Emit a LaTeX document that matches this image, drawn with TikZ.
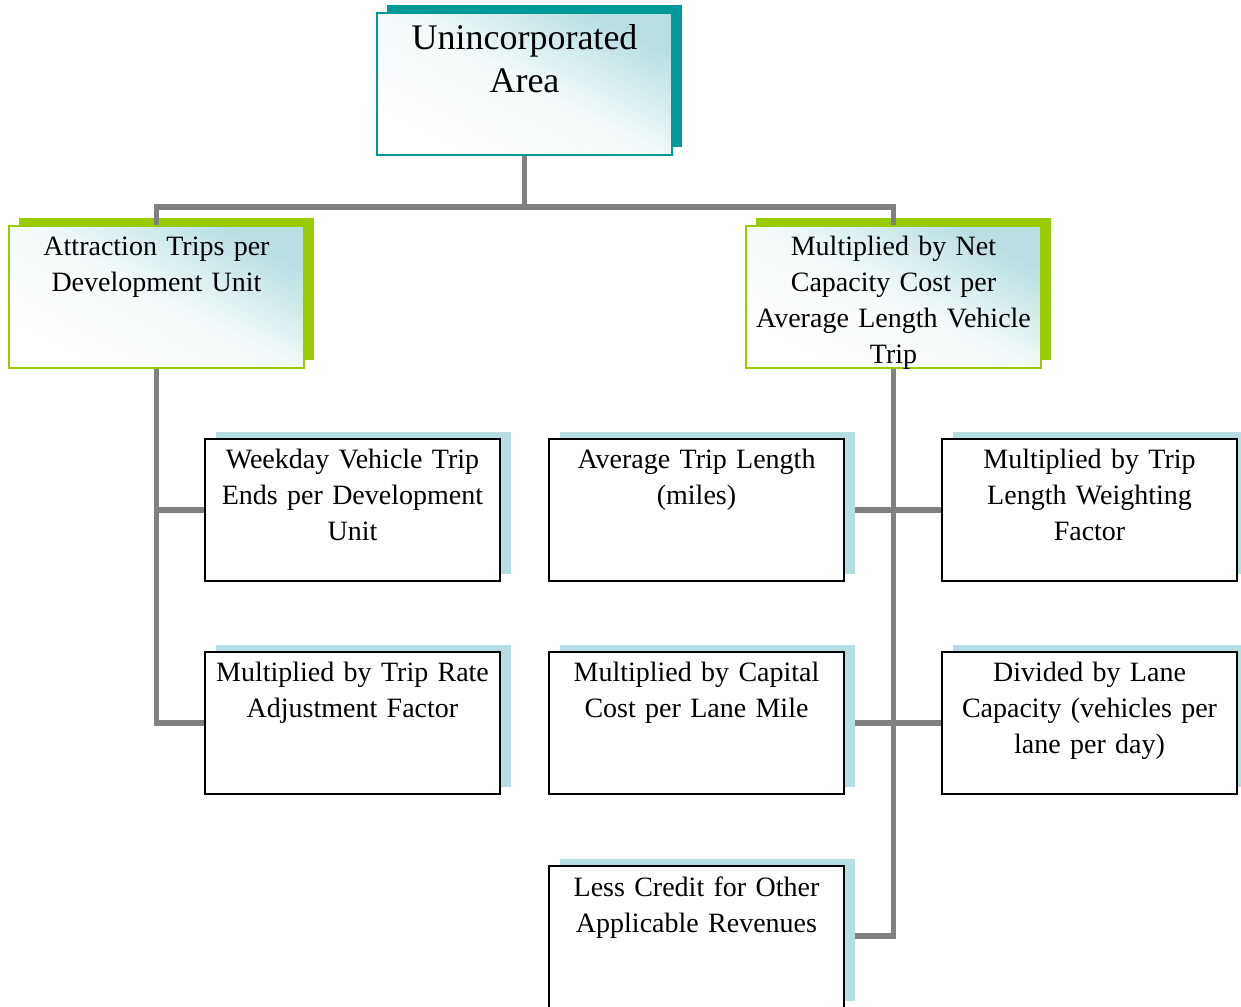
\documentclass[tikz,border=0pt]{standalone}
\usepackage{fontspec}
\setmainfont{Liberation Serif}
\usetikzlibrary{calc}
\definecolor{tealsh}{RGB}{0,153,153}
\definecolor{greensh}{RGB}{153,204,0}
\definecolor{bluesh}{RGB}{183,222,226}
\definecolor{conncol}{RGB}{128,128,128}
\definecolor{gradblue}{RGB}{183,222,226}
\tikzset{
  x=0.75pt, y=-0.75pt,
  boxbase/.style={rectangle, inner sep=0pt, minimum width=221.25pt, minimum height=106.5pt},
  whitebox/.style={boxbase, draw=black, line width=1.3pt, fill=white},
  gradbox/.style={boxbase, line width=1.2pt, top color=gradblue, bottom color=white, middle color=white!85!gradblue, shading angle=-28},
  shadowbox/.style={boxbase, draw=none},
  conn/.style={draw=conncol, line width=4pt},
  txt/.style={anchor=north, inner sep=0pt, align=center, text width=218pt, font=\fontsize{21}{27}\selectfont},
  bigtxt/.style={anchor=north, inner sep=0pt, align=center, text width=218pt, font=\fontsize{27}{32.3}\selectfont}
}
\begin{document}
\begin{tikzpicture}
\useasboundingbox (0,0) rectangle (1241,1006);
\fill[white] (0,0) rectangle (1241,1006);

% positions of main boxes
\coordinate (pTop) at (524.5,84);
\coordinate (pAttr) at (156.5,297);
\coordinate (pNet) at (893.5,297);
\coordinate (pWeek) at (352.5,510);
\coordinate (pRate) at (352.5,723);
\coordinate (pAvg) at (696.5,510);
\coordinate (pCap) at (696.5,723);
\coordinate (pLess) at (696.5,937);
\coordinate (pWeight) at (1089.5,510);
\coordinate (pLane) at (1089.5,723);

% shadows
\node[shadowbox, fill=tealsh] (topS) at ($(pTop)+(10,-8)$) {};
\node[shadowbox, fill=greensh] (attrS) at ($(pAttr)+(10,-8)$) {};
\node[shadowbox, fill=greensh] (netS) at ($(pNet)+(10,-8)$) {};
\node[shadowbox, fill=bluesh] (weekS) at ($(pWeek)+(11,-7)$) {};
\node[shadowbox, fill=bluesh] (rateS) at ($(pRate)+(11,-7)$) {};
\node[shadowbox, fill=bluesh] (avgS) at ($(pAvg)+(11,-7)$) {};
\node[shadowbox, fill=bluesh] (capS) at ($(pCap)+(11,-7)$) {};
\node[shadowbox, fill=bluesh] (lessS) at ($(pLess)+(11,-7)$) {};
\node[shadowbox, fill=bluesh] (weightS) at ($(pWeight)+(11,-7)$) {};
\node[shadowbox, fill=bluesh] (laneS) at ($(pLane)+(11,-7)$) {};

% connectors
\coordinate (busTop) at (524.5,207);
\draw[conn] (pTop) -- (busTop);
\draw[conn] (pAttr) |- (busTop) -| (pNet);
\draw[conn] (pAttr) |- (pRate);
\draw[conn] (pAttr |- pWeek) -- (pWeek);
\coordinate (rightEnd) at (893.5,936);
\draw[conn] (pNet) -- (rightEnd) -- (rightEnd -| pLess);
\draw[conn] (pAvg) -- (pWeight);
\draw[conn] (pCap) -- (pLane);

% shadows drawn again over the connectors (connectors end at shadow edge)
\node[shadowbox, fill=bluesh] at (avgS) {};
\node[shadowbox, fill=bluesh] at (capS) {};
\node[shadowbox, fill=bluesh] at (lessS) {};

% main boxes
\node[gradbox, draw=tealsh] (top) at (pTop) {};
\node[gradbox, draw=greensh] (attr) at (pAttr) {};
\node[gradbox, draw=greensh] (net) at (pNet) {};
\node[whitebox] (week) at (pWeek) {};
\node[whitebox] (rate) at (pRate) {};
\node[whitebox] (avg) at (pAvg) {};
\node[whitebox] (cap) at (pCap) {};
\node[whitebox] (less) at (pLess) {};
\node[whitebox] (weight) at (pWeight) {};
\node[whitebox] (lane) at (pLane) {};

% texts
\node[bigtxt] (topT) at ($(top.north)+(0,12)$) {Unincorporated\\Area};
\node[txt] (attrT) at ($(attr.north)+(0,11)$) {Attraction Trips per\\Development Unit};
\node[txt, text width=222pt] (netT) at ($(net.north)+(0,11)$) {Multiplied by Net\\Capacity Cost per\\Average Length Vehicle\\Trip};
\node[txt] (weekT) at ($(week.north)+(0,11)$) {Weekday Vehicle Trip\\Ends per Development\\Unit};
\node[txt] (rateT) at ($(rate.north)+(0,11)$) {Multiplied by Trip Rate\\Adjustment Factor};
\node[txt] (avgT) at ($(avg.north)+(0,11)$) {Average Trip Length\\(miles)};
\node[txt] (capT) at ($(cap.north)+(0,11)$) {Multiplied by Capital\\Cost per Lane Mile};
\node[txt] (lessT) at ($(less.north)+(0,11)$) {Less Credit for Other\\Applicable Revenues};
\node[txt] (weightT) at ($(weight.north)+(0,11)$) {Multiplied by Trip\\Length Weighting\\Factor};
\node[txt] (laneT) at ($(lane.north)+(0,11)$) {Divided by Lane\\Capacity (vehicles per\\lane per day)};
\end{tikzpicture}
\end{document}
